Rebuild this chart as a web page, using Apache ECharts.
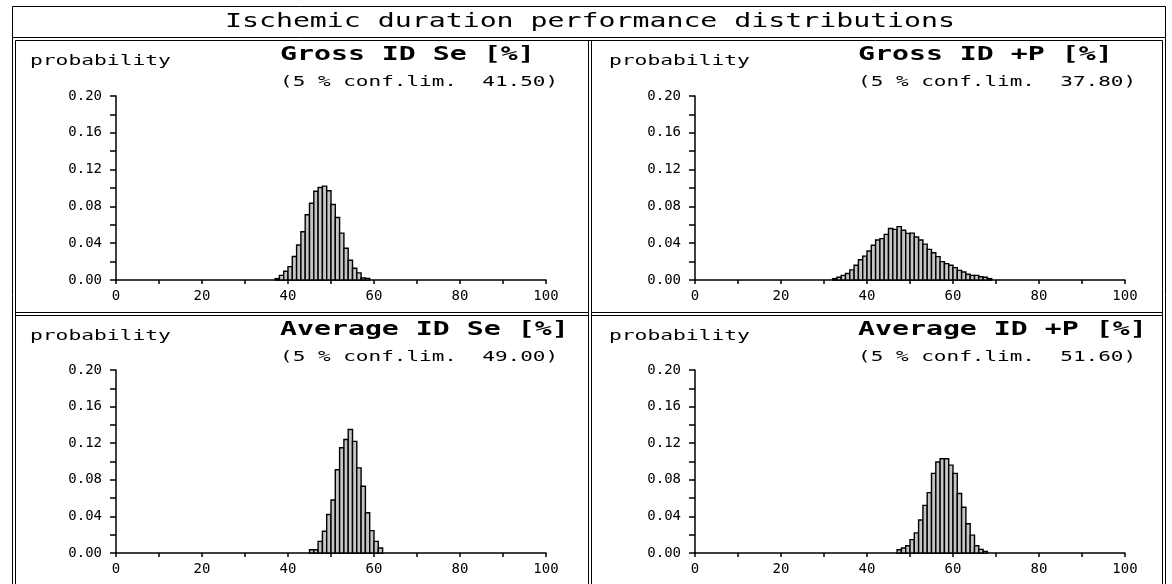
<!DOCTYPE html>
<html><head><meta charset="utf-8">
<script src="https://cdn.jsdelivr.net/npm/echarts@6/dist/echarts.min.js"></script>
<style>html,body{margin:0;padding:0;background:#fff}#chart{width:1172px;height:584px}</style>
</head><body><div id="chart"></div>
<script>
const mainTitle = 'Ischemic duration performance distributions';
const panelTitles = ['Gross ID Se [%]', 'Gross ID +P [%]', 'Average ID Se [%]', 'Average ID +P [%]'];
const confLimits = ['41.50', '37.80', '49.00', '51.60'];
const yAxisName = 'probability';

// histogram bins of width 1 (% units): first bin start and probabilities
const grossSeStart = 37;
const grossSeValues = [0.0015, 0.005, 0.0095, 0.0145, 0.0255, 0.038, 0.0525, 0.071, 0.0835, 0.0965, 0.1005,
  0.102, 0.097, 0.082, 0.068, 0.051, 0.0345, 0.0215, 0.0127, 0.0077, 0.0022, 0.0018];
const grossPpStart = 32;
const grossPpValues = [0.0015, 0.003, 0.005, 0.007, 0.011, 0.016, 0.022, 0.026, 0.0315, 0.0377, 0.0435, 0.045,
  0.0496, 0.056, 0.055, 0.058, 0.054, 0.0507, 0.051, 0.0467, 0.0435, 0.039, 0.0333, 0.0297, 0.0254, 0.020,
  0.0178, 0.016, 0.0134, 0.0105, 0.0087, 0.0062, 0.005, 0.005, 0.0036, 0.003, 0.0015];
const avgSeStart = 45;
const avgSeValues = [0.0036, 0.0036, 0.0127, 0.0237, 0.042, 0.058, 0.091, 0.115, 0.124, 0.135, 0.122, 0.093,
  0.073, 0.044, 0.0245, 0.0127, 0.0055];
const avgPpStart = 47;
const avgPpValues = [0.0036, 0.0055, 0.008, 0.0146, 0.022, 0.036, 0.052, 0.066, 0.087, 0.0995, 0.103, 0.103,
  0.096, 0.087, 0.065, 0.050, 0.032, 0.0195, 0.008, 0.004, 0.0018];

const xMin = 0, xMax = 100, xInterval = 20;
const yMin = 0, yMax = 0.2, yInterval = 0.04;

const starts = [grossSeStart, grossPpStart, avgSeStart, avgPpStart];
const valueSets = [grossSeValues, grossPpValues, avgSeValues, avgPpValues];

const gridPos = [
  {left: 116, top: 96, width: 430, height: 184},
  {left: 695, top: 96, width: 430, height: 184},
  {left: 116, top: 370, width: 430, height: 183},
  {left: 695, top: 370, width: 430, height: 183}
];
const textPos = [
  {hx: 280, hy: 55, cy: 82, py: 61, px: 30},
  {hx: 858, hy: 55, cy: 82, py: 61, px: 609},
  {hx: 280, hy: 330, cy: 357, py: 336, px: 30},
  {hx: 858, hy: 330, cy: 357, py: 336, px: 609}
];

const MONO = '"DejaVu Sans Mono", "Liberation Mono", monospace';
const lineSt = {color: '#000', width: 1.5};

const grids = [], xAxes = [], yAxes = [], series = [];
for (let i = 0; i < 4; i++) {
  grids.push(Object.assign({containLabel: false}, gridPos[i]));
  xAxes.push({
    type: 'value', gridIndex: i, min: xMin, max: xMax, interval: xInterval,
    axisLine: {show: true, onZero: false, lineStyle: lineSt},
    axisTick: {show: true, length: 4, lineStyle: lineSt},
    minorTick: {show: true, splitNumber: 2, length: 4, lineStyle: lineSt},
    splitLine: {show: false}, minorSplitLine: {show: false},
    axisLabel: {color: '#000', fontFamily: MONO, fontSize: 14, margin: 9}
  });
  yAxes.push({
    type: 'value', gridIndex: i, min: yMin, max: yMax, interval: yInterval,
    axisLine: {show: true, onZero: false, lineStyle: lineSt},
    axisTick: {show: true, length: 6, lineStyle: lineSt},
    minorTick: {show: true, splitNumber: 2, length: 6, lineStyle: lineSt},
    splitLine: {show: false}, minorSplitLine: {show: false},
    axisLabel: {color: '#000', fontFamily: MONO, fontSize: 14, margin: 14,
      formatter: v => v.toFixed(2)}
  });
  const data = valueSets[i].map((v, k) => [starts[i] + k, v]);
  series.push({
    type: 'custom', xAxisIndex: i, yAxisIndex: i, data: data,
    renderItem: function (params, api) {
      const x0 = api.value(0), y = api.value(1);
      const p0 = api.coord([x0, y]);
      const p1 = api.coord([x0 + 1, 0]);
      return {
        type: 'rect',
        shape: {x: p0[0], y: p0[1], width: p1[0] - p0[0], height: p1[1] - p0[1]},
        style: {fill: '#c4c4c4', stroke: '#000', lineWidth: 1.4}
      };
    }
  });
}

function hline(x1, x2, y) {
  return {type: 'line', shape: {x1: x1, y1: y, x2: x2, y2: y}, style: {stroke: '#000', lineWidth: 1}, silent: true};
}
function vline(x, y1, y2) {
  return {type: 'line', shape: {x1: x, y1: y1, x2: x, y2: y2}, style: {stroke: '#000', lineWidth: 1}, silent: true};
}
function txt(s, x, y, size, weight, align, sx) {
  return {type: 'text', x: x, y: y, scaleX: sx, silent: true,
    style: {text: s, fontFamily: 'DejaVu Sans Mono', fontSize: size, fontWeight: weight, fill: '#000',
      align: align, textAlign: align, verticalAlign: 'middle', textVerticalAlign: 'middle'}};
}

const graphic = [];
// outer frame
graphic.push(hline(12.5, 1165.5, 6.5));
graphic.push(vline(12.5, 6.5, 584));
graphic.push(vline(1165.5, 6.5, 584));
// title separator
graphic.push(hline(12.5, 1165.5, 37.5));
// panel frames
graphic.push(hline(15.5, 1162.5, 40.5));
graphic.push(vline(15.5, 40.5, 584));
graphic.push(vline(1162.5, 40.5, 584));
graphic.push(vline(588.5, 40.5, 584));
graphic.push(vline(591.5, 40.5, 584));
graphic.push(hline(15.5, 588.5, 312.5));
graphic.push(hline(591.5, 1162.5, 312.5));
graphic.push(hline(15.5, 588.5, 315.5));
graphic.push(hline(591.5, 1162.5, 315.5));

graphic.push(txt(mainTitle, 590, 22, 20, 'normal', 'center', 1.41));
for (let i = 0; i < 4; i++) {
  const t = textPos[i];
  graphic.push(txt(panelTitles[i], t.hx, t.hy, 20, 'bold', 'left', 1.41));
  graphic.push(txt('(5 % conf.lim.  ' + confLimits[i] + ')', t.hx, t.cy, 14, 'normal', 'left', 1.5));
  graphic.push(txt(yAxisName, t.px, t.py, 14, 'normal', 'left', 1.52));
}

const chart = echarts.init(document.getElementById('chart'), null, {renderer: 'canvas'});
chart.setOption({
  animation: false,
  backgroundColor: '#fff',
  grid: grids, xAxis: xAxes, yAxis: yAxes, series: series,
  graphic: graphic
});
</script>
</body></html>
